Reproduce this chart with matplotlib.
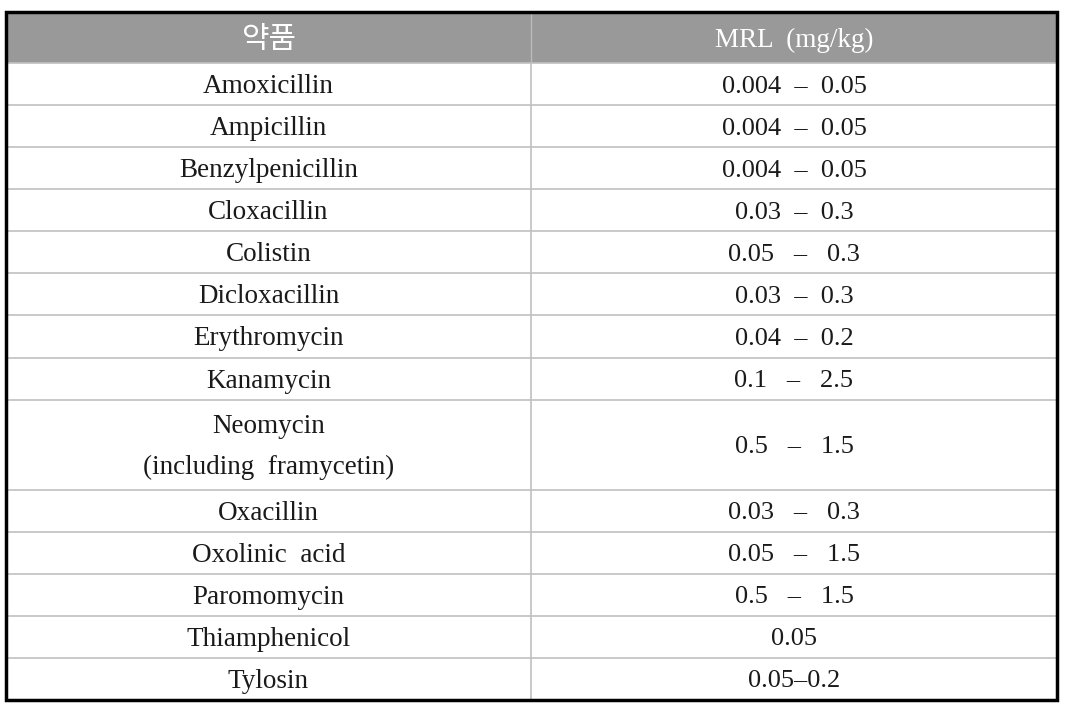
import matplotlib
matplotlib.use("Agg")
import matplotlib.pyplot as plt
from matplotlib.patches import Rectangle

headers = ["약품", "MRL  (mg/kg)"]
drugs = ["Amoxicillin", "Ampicillin", "Benzylpenicillin", "Cloxacillin", "Colistin",
         "Dicloxacillin", "Erythromycin", "Kanamycin", "Neomycin\n(including  framycetin)",
         "Oxacillin", "Oxolinic  acid", "Paromomycin", "Thiamphenicol", "Tylosin"]
mrl = ["0.004  –  0.05", "0.004  –  0.05", "0.004  –  0.05", "0.03  –  0.3", "0.05   –   0.3",
       "0.03  –  0.3", "0.04  –  0.2", "0.1   –   2.5", "0.5   –   1.5",
       "0.03   –   0.3", "0.05   –   1.5", "0.5   –   1.5", "0.05", "0.05–0.2"]
row_units = [1, 1, 1, 1, 1, 1, 1, 1, 2.14, 1, 1, 1, 1, 1]

W, H = 1069, 719
fig = plt.figure(figsize=(W / 100, H / 100), dpi=100)
ax = fig.add_axes([0, 0, 1, 1])
ax.set_xlim(0, W)
ax.set_ylim(H, 0)
ax.axis("off")

left, right, top, bottom = 6, 1057, 12, 700
mid = 531
header_bottom = 63
unit = (bottom - header_bottom) / sum(row_units)

serif = ["Liberation Serif", "DejaVu Serif"]
fs = 19.5

# header
ax.add_patch(Rectangle((left, top), right - left, header_bottom - top, facecolor="#999999", edgecolor="none", zorder=1))
ax.text((left + mid) / 2, (top + header_bottom) / 2 + 2, headers[0], ha="center", va="center",
        fontsize=21.5, color="white", fontweight="light",
        family=["Noto Sans CJK KR", "DejaVu Sans"], zorder=3)
ax.text((mid + right) / 2, (top + header_bottom) / 2 + 3, headers[1], ha="center", va="center",
        fontsize=fs, color="white", family=serif, zorder=3)
ax.plot([mid, mid], [top, header_bottom], color="#bbbbbb", lw=1, zorder=2)

y = header_bottom
for d, m, u in zip(drugs, mrl, row_units):
    h = unit * u
    yc = y + h / 2 + 2.5
    ax.text((left + mid) / 2, yc, d, ha="center", va="center", fontsize=fs, color="#1a1a1a",
            family=serif, linespacing=1.85, zorder=3)
    ax.text((mid + right) / 2, yc, m, ha="center", va="center", fontsize=fs - 0.5, color="#1a1a1a",
            family=serif, zorder=3)
    y += h
    if y < bottom - 1:
        ax.plot([left, right], [y, y], color="#c0c0c0", lw=1.2, zorder=2)

ax.plot([mid, mid], [header_bottom, bottom], color="#c0c0c0", lw=1.2, zorder=2)
ax.plot([left, right], [header_bottom, header_bottom], color="#c0c0c0", lw=1.2, zorder=2)

ax.add_patch(Rectangle((left, top), right - left, bottom - top, facecolor="none", edgecolor="black", lw=2.5, zorder=4))

fig.savefig("out.png", dpi=100)
